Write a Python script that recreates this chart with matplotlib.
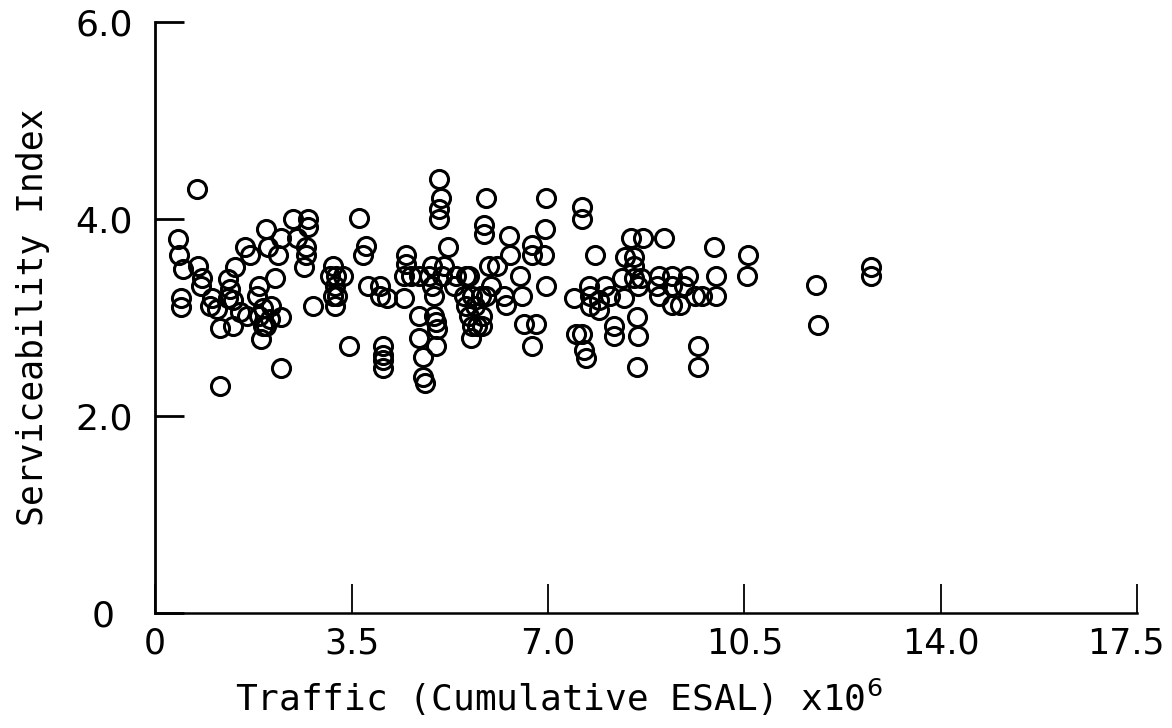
import matplotlib
matplotlib.use("Agg")
import matplotlib.pyplot as plt
import matplotlib.transforms as mtransforms

# Traffic (cumulative ESAL, x10^6)
traffic = [
    0.74, 0.41, 0.43, 0.49, 0.47, 0.47, 0.77, 0.83, 0.82, 1.01, 0.98, 1.10, 1.15, 1.15,
    1.30, 1.33, 1.30, 1.42, 1.39, 1.39, 1.60, 1.69, 1.51, 1.63, 1.86, 1.81, 1.92, 1.86,
    1.92, 1.89, 1.98, 2.01, 2.19, 2.25, 2.13, 2.07, 2.04, 1.98, 2.25, 2.25, 2.46, 2.52,
    2.72, 2.72, 2.69, 2.69, 2.66, 2.81,
    3.17, 3.12, 3.22, 3.35, 3.20, 3.17, 3.25, 3.20,
    3.46, 3.63, 3.76, 3.70, 3.79, 4.00, 4.00, 4.14, 4.06, 4.06, 4.06, 4.06, 4.44, 4.47,
    4.47, 4.44, 4.56, 4.71, 4.88, 4.71, 4.71, 4.77, 4.77, 4.80, 4.94, 4.94, 4.97, 4.97,
    5.00, 5.03, 5.00, 5.05, 5.09, 5.06, 5.06, 5.21, 5.15, 5.12, 5.33, 5.36, 5.54, 5.60,
    5.51, 5.54, 5.65, 5.70, 5.60, 5.65, 5.62, 5.74, 5.83, 5.83, 5.80, 5.90, 5.86, 5.86,
    5.90, 5.95, 6.10, 5.98, 6.22, 6.25, 6.31, 6.33, 6.51, 6.54, 6.57, 6.72,
    6.96, 7.61, 7.61, 6.94, 6.72, 6.72, 6.93, 6.96, 6.78, 7.84, 7.46, 7.49, 7.60, 7.64,
    7.67, 7.73, 7.75, 7.75, 7.90, 7.90, 8.02, 8.10, 8.17, 8.17, 8.35, 8.32, 8.38, 8.47,
    8.53, 8.53, 8.53, 8.60, 8.58, 8.60, 8.58, 8.70, 8.65, 9.06, 8.97, 8.95, 8.97, 9.20,
    9.20, 9.20, 9.36, 9.42, 9.50, 9.62, 9.74, 9.68, 9.68,
    9.95, 10.00, 10.00, 10.56, 10.54, 11.78, 11.81, 12.76, 12.76,
]

# Serviceability index
psi = [
    4.30, 3.80, 3.63, 3.49, 3.20, 3.11, 3.52, 3.40, 3.32, 3.20, 3.12, 3.09, 2.89, 2.30,
    3.39, 3.29, 3.20, 3.51, 3.18, 2.91, 3.71, 3.63, 3.05, 3.01, 3.32, 3.22, 3.10, 3.01,
    2.91, 2.78, 3.90, 3.71, 3.63, 3.81, 3.40, 3.12, 2.98, 2.91, 3.00, 2.49, 4.00, 3.81,
    4.00, 3.92, 3.71, 3.63, 3.51, 3.12,
    3.52, 3.42, 3.42, 3.42, 3.32, 3.22, 3.22, 3.12,
    2.71, 4.01, 3.72, 3.63, 3.32, 3.32, 3.22, 3.20, 2.71, 2.62, 2.57, 2.49, 3.20, 3.63,
    3.54, 3.42, 3.42, 3.42, 3.42, 3.01, 2.79, 2.60, 2.40, 2.33, 3.52, 3.32, 3.22, 3.01,
    2.95, 2.88, 2.71, 4.40, 4.21, 4.10, 4.00, 3.71, 3.52, 3.42, 3.32, 3.42, 3.42, 3.42,
    3.22, 3.12, 3.22, 3.12, 3.01, 2.91, 2.79, 2.91, 3.01, 2.91, 3.22, 3.22, 3.94, 3.85,
    4.21, 3.52, 3.52, 3.32, 3.22, 3.13, 3.83, 3.63, 3.42, 3.22, 2.93, 2.71,
    4.21, 4.12, 4.00, 3.90, 3.73, 3.63, 3.63, 3.32, 2.93, 3.63, 3.20, 2.83, 2.83, 2.67,
    2.59, 3.32, 3.22, 3.12, 3.18, 3.08, 3.32, 3.22, 2.91, 2.81, 3.20, 3.40, 3.61, 3.81,
    3.61, 3.52, 3.40, 3.32, 3.00, 2.81, 2.50, 3.81, 3.40, 3.81, 3.42, 3.32, 3.22, 3.42,
    3.32, 3.13, 3.13, 3.32, 3.42, 3.22, 3.22, 2.71, 2.50,
    3.71, 3.42, 3.22, 3.63, 3.42, 3.33, 2.92, 3.51, 3.42,
]

x_ticks = [0, 3.5, 7.0, 10.5, 14.0, 17.5]
x_tick_labels = ["0", "3.5", "7.0", "10.5", "14.0", "17.5"]
y_ticks = [0, 2.0, 4.0, 6.0]
y_tick_labels = ["0", "2.0", "4.0", "6.0"]

plt.rcParams['font.family'] = ['DejaVu Sans']
plt.rcParams['mathtext.fontset'] = 'dejavusans'

fig = plt.figure(figsize=(11.72, 7.28), dpi=100)
ax = fig.add_axes([0.1323, 0.158, 0.9705 - 0.1323, 0.970 - 0.158])

ax.plot(traffic, psi, linestyle='none', marker='o', markersize=13,
        markerfacecolor='none', markeredgecolor='black', markeredgewidth=2.2)

ax.set_xlim(0, 17.5)
ax.set_ylim(0, 6.0)
ax.set_xticks(x_ticks)
ax.set_xticklabels(x_tick_labels, fontsize=25)
ax.set_yticks(y_ticks)
ax.set_yticklabels(y_tick_labels, fontsize=26)

ax.spines['top'].set_visible(False)
ax.spines['right'].set_visible(False)
ax.spines['left'].set_linewidth(2.0)
ax.spines['bottom'].set_linewidth(1.8)

ax.tick_params(axis='x', direction='in', length=21, width=1.3, pad=10)
ax.tick_params(axis='y', direction='in', length=21, width=2.0, pad=16)

# small offsets as in the reference: last x label sits a bit left, y "0" sits further left
last_lbl = ax.get_xticklabels()[-1]
last_lbl.set_transform(last_lbl.get_transform() +
                       mtransforms.ScaledTranslation(-12 / 100, 0, fig.dpi_scale_trans))
zero_lbl = ax.get_yticklabels()[0]
zero_lbl.set_transform(zero_lbl.get_transform() +
                       mtransforms.ScaledTranslation(-18 / 100, 0, fig.dpi_scale_trans))

ax.set_xlabel("Traffic (Cumulative ESAL) x10$^{6}$", fontsize=26,
              family=['DejaVu Sans Mono'])
ax.xaxis.set_label_coords(0.411, -0.108)
ax.set_ylabel("Serviceability Index", fontsize=25,
              family=['DejaVu Sans Mono'], labelpad=18)

fig.savefig("out.png", dpi=100, facecolor='white')
